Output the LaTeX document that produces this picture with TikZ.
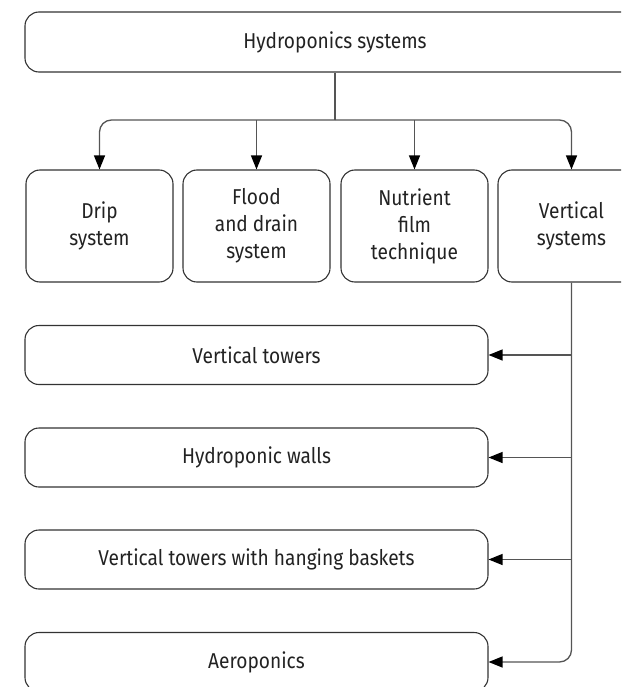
\documentclass[tikz,border=0pt]{standalone}
\usepackage{fontspec}
\setmainfont{Fira Sans}[FakeStretch=0.89]
\usetikzlibrary{arrows.meta}
\definecolor{ln}{HTML}{555555}
\definecolor{bx}{HTML}{333333}
\definecolor{tx}{HTML}{222222}
\tikzset{
  box/.style={draw=bx, line width=1.1pt, rounded corners=14pt, align=center, inner sep=0pt,
    font=\fontsize{21.5}{27}\selectfont, text=tx},
  conn/.style={draw=ln, line width=1.3pt},
  arr/.style={conn, arrows={-{Triangle[length=14pt,width=11pt,color=black]}}},
}
\begin{document}
\begin{tikzpicture}[x=1pt,y=-1pt]
\useasboundingbox (0,0) rectangle (621,687);
\clip (0,0) rectangle (621,687);
\node[box, minimum width=620pt, minimum height=60pt] (top) at (335,42) {Hydroponics systems};
\node[box, minimum width=147pt, minimum height=112pt] (drip) at (99.5,226) {Drip\\system};
\node[box, minimum width=147pt, minimum height=112pt] (flood) at (256.5,226) {Flood\\and drain\\system};
\node[box, minimum width=147pt, minimum height=112pt] (nft) at (414.5,226) {Nutrient\\film\\technique};
\node[box, minimum width=147pt, minimum height=112pt] (vert) at (571.5,226) {Vertical\\systems};
\node[box, minimum width=463pt, minimum height=59pt] (towers) at (256.5,355) {Vertical towers};
\node[box, minimum width=463pt, minimum height=59pt] (walls) at (256.5,457.5) {Hydroponic walls};
\node[box, minimum width=463pt, minimum height=59pt] (baskets) at (256.5,559.5) {Vertical towers with hanging baskets};
\node[box, minimum width=463pt, minimum height=59pt] (aero) at (256.5,662) {Aeroponics};
\coordinate (bus) at (335,120);
\draw[conn] (top.south) -- (bus);
\draw[arr, rounded corners=12pt] (bus) -| (drip.north);
\draw[arr, rounded corners=12pt] (bus) -| (vert.north);
\draw[arr] (bus -| flood.north) -- (flood.north);
\draw[arr] (bus -| nft.north) -- (nft.north);
\draw[arr, rounded corners=12pt] (vert.south) |- (aero.east);
\draw[arr] (vert.south |- towers.east) -- (towers.east);
\draw[arr] (vert.south |- walls.east) -- (walls.east);
\draw[arr] (vert.south |- baskets.east) -- (baskets.east);
\end{tikzpicture}
\end{document}
